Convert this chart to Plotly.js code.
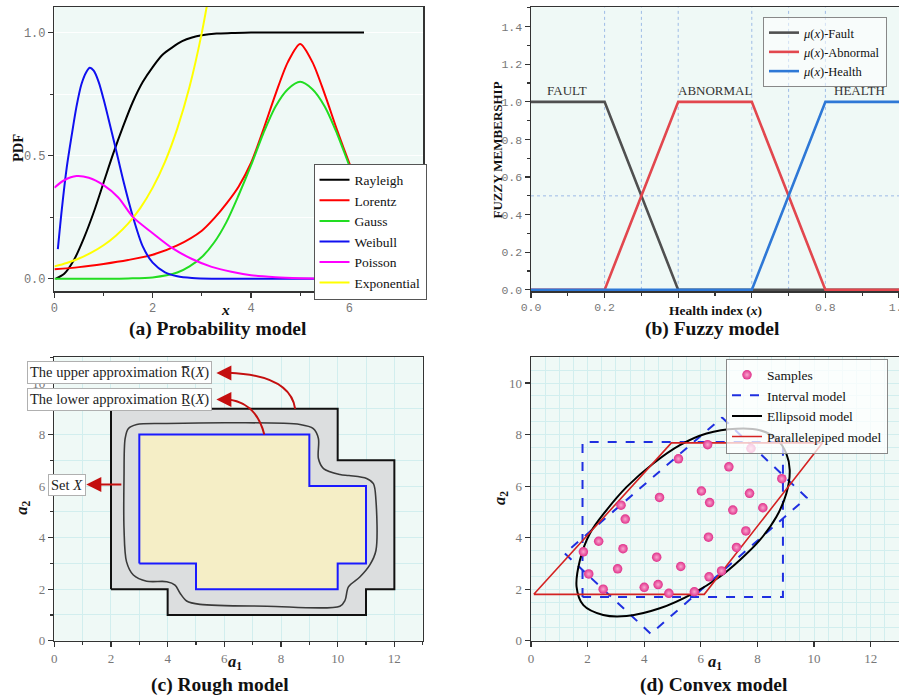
<!DOCTYPE html>
<html><head><meta charset="utf-8">
<script src="https://cdn.plot.ly/plotly-3.0.1.min.js"></script>
<style>html,body{margin:0;padding:0;background:#fff}#chart{width:899px;height:699px}</style>
</head><body><div id="chart"></div>
<script>
// ---------- (a) Probability model ----------
const rayX = [0.03,0.2,0.4,0.6,0.8,1.0,1.2,1.4,1.6,1.8,2.0,2.2,2.4,2.6,2.8,3.0,3.3,3.6,4.0,5.0,6.0,6.3];
const rayY = [0.0,0.02,0.077,0.165,0.27,0.39,0.51,0.62,0.72,0.80,0.86,0.91,0.94,0.965,0.98,0.989,0.996,0.998,1.0,1.0,1.0,1.0];
const lorX = [0,0.5,1,1.5,2,2.5,3,3.25,3.5,3.75,4,4.25,4.5,4.75,5,5.25,5.5,5.75,6,6.3];
const lorY = [0.038,0.047,0.06,0.076,0.097,0.135,0.195,0.245,0.305,0.375,0.47,0.605,0.75,0.88,0.954,0.88,0.75,0.605,0.47,0.32];
const gauX = [0,1,1.5,2,2.5,2.75,3,3.25,3.5,3.75,4,4.25,4.5,4.75,5,5.25,5.5,5.75,6,6.3];
const gauY = [0,0,0.001,0.005,0.025,0.05,0.088,0.147,0.23,0.34,0.46,0.59,0.70,0.77,0.80,0.77,0.70,0.59,0.46,0.31];
const weiX = [0.07,0.15,0.25,0.35,0.45,0.55,0.65,0.72,0.8,0.9,1.0,1.1,1.24,1.4,1.6,1.8,2.0,2.25,2.5,2.8,3.2,4.0,5.0,6.3];
const weiY = [0.12,0.28,0.45,0.58,0.70,0.79,0.84,0.857,0.845,0.80,0.73,0.65,0.535,0.40,0.25,0.13,0.065,0.026,0.01,0.003,0.0,0.0,0.0,0.0];
const poiX = [0,0.2,0.45,0.7,1.0,1.3,1.6,2.0,2.4,2.8,3.2,3.6,4.0,4.5,5.0,5.5,6.3];
const poiY = [0.37,0.40,0.417,0.41,0.38,0.33,0.25,0.185,0.124,0.08,0.048,0.028,0.014,0.006,0.002,0.0,0.0];
const expX = [0,0.25,0.5,0.75,1.0,1.25,1.5,1.75,2.0,2.25,2.5,2.75,3.0,3.2];
const expY = [0.05,0.064,0.082,0.106,0.136,0.175,0.224,0.288,0.37,0.475,0.61,0.78,1.0,1.22];
const aNames = ["Rayleigh","Lorentz","Gauss","Weibull","Poisson","Exponential"];

// ---------- (b) Fuzzy model ----------
const faultX = [0,0.2,0.4,1.0], faultY = [1,1,0,0];
const abnX = [0,0.2,0.4,0.6,0.8,1.0], abnY = [0,0,1,1,0,0];
const heaX = [0,0.6,0.8,1.0], heaY = [0,0,1,1];
const bNames = ["<i>μ</i>(<i>x</i>)-Fault","<i>μ</i>(<i>x</i>)-Abnormal","<i>μ</i>(<i>x</i>)-Health"];
const bLabels = ["FAULT","ABNORMAL","HEALTH"];
const bLabelX = [0.099,0.5,0.894];
const bLabelY = [1.06,1.06,1.06];
const bRefX = [0.2,0.3,0.4,0.6,0.7,0.8];
const bRefY = [0.5];
const bTickVals = [0,0.2,0.4,0.6,0.8,1.0];
const bTickText = ["0.0","0.2","","","0.8","1.0"];

// ---------- (c) Rough model ----------
const upperX = [2,2,10,10,12,12,11,11,4,4,2], upperY = [2,9,9,7,7,2,2,1,1,2,2];
const lowerX = [3,3,9,9,11,11,10,10,5,5,3], lowerY = [3,8,8,6,6,3,3,2,2,3,3];
const setXx = [2.46,2.5,2.61,2.91,3.97,6.32,8.67,9.14,9.32,9.32,9.5,10.08,10.4,11.02,11.26,11.35,11.35,11.14,10.79,10.38,10.26,10.08,7.5,5.14,4.67,4.44,4.26,3.97,3.26,2.79,2.55,2.46,2.46];
const setXy = [6.3,7.85,8.23,8.39,8.43,8.46,8.39,8.23,7.85,7.07,6.68,6.45,6.41,6.3,6.1,5.45,3.5,2.95,2.48,2.09,1.57,1.34,1.34,1.41,1.54,1.84,2.16,2.29,2.31,2.55,3.06,4.36,6.3];

// ---------- (d) Convex model ----------
const smpX = [6.24,7.77,5.21,6.99,8.86,6.02,7.72,4.54,6.31,8.19,7.13,3.18,3.33,7.59,6.27,2.39,3.25,7.26,1.85,4.44,5.29,3.06,6.73,2.04,6.29,2.55,4.0,4.49,4.87,5.77];
const smpY = [7.61,7.46,7.06,6.75,6.29,5.81,5.72,5.56,5.36,5.16,5.07,5.26,4.72,4.26,4.02,3.86,3.57,3.62,3.45,3.24,2.88,2.79,2.71,2.59,2.48,2.0,2.07,2.18,1.84,1.9];
const intX = [1.82,1.82,8.9,8.9,1.82], intY = [1.7,7.71,7.71,1.7,1.7];
const rotX = [6.75,9.74,4.23,1.19,6.75], rotY = [8.66,5.55,0.27,3.39,8.66];
const parX = [0.1,6.12,10.3,4.96,0.1], parY = [1.8,1.8,7.68,7.68,1.8];
const ellX = [7.26,8.08,8.67,9.02,9.14,9.02,8.67,8.08,7.38,6.67,5.73,4.55,3.38,2.55,1.85,1.61,1.73,2.08,2.67,3.38,4.32,5.26,6.2,7.26];
const ellY = [8.23,8.17,7.84,7.26,6.62,5.71,4.81,3.9,3.13,2.48,1.84,1.26,0.96,1.0,1.38,2.09,3.13,4.16,5.07,5.97,6.88,7.59,8.04,8.23];
const dNames = ["Samples","Interval model","Ellipsoid model","Parallelepiped model"];

// ---------- layout helpers ----------
const W = 899, H = 699;
const px = v => v / W, py = v => 1 - v / H;
const SERIF = "Liberation Serif";
const MONO = "Liberation Mono";
const axLine = {showline:true, mirror:true, linecolor:"#333", linewidth:1.5, ticks:"outside", ticklen:5, tickwidth:1.2, tickcolor:"#333", zeroline:false, fixedrange:true};

const traces = [];
const aCols = ["#000000","#ff0000","#22dd22","#1010f0","#ff00ff","#ffff00"];
const aX = [rayX,lorX,gauX,weiX,poiX,expX], aY = [rayY,lorY,gauY,weiY,poiY,expY];
const drawOrder = [0,1,2,3,5,4];
drawOrder.forEach(i => traces.push({x:aX[i], y:aY[i], name:aNames[i], type:"scatter", mode:"lines", xaxis:"x", yaxis:"y", legend:"legend", legendrank:i+1, line:{color:aCols[i], width:2, shape:"spline", smoothing:0.8}}));

const bCols = ["#505050","#e2474e","#2e78d6"];
[[faultX,faultY],[abnX,abnY],[heaX,heaY]].forEach((s,i) => traces.push({x:s[0], y:s[1], name:bNames[i], type:"scatter", mode:"lines", xaxis:"x2", yaxis:"y2", legend:"legend2", line:{color:bCols[i], width:2.6}}));

traces.push({x:upperX, y:upperY, type:"scatter", mode:"lines", fill:"toself", fillcolor:"#dcdedf", line:{color:"#111", width:2}, xaxis:"x3", yaxis:"y3", showlegend:false});
traces.push({x:lowerX, y:lowerY, type:"scatter", mode:"lines", fill:"toself", fillcolor:"#f5eec6", line:{color:"#1a1aff", width:2}, xaxis:"x3", yaxis:"y3", showlegend:false});
traces.push({x:setXx, y:setXy, type:"scatter", mode:"lines", line:{color:"#3a3a3a", width:1.6, shape:"spline", smoothing:0.9}, xaxis:"x3", yaxis:"y3", showlegend:false});

traces.push({x:intX, y:intY, name:dNames[1], type:"scatter", mode:"lines", line:{color:"#1f2fe0", width:2, dash:"dash"}, xaxis:"x4", yaxis:"y4", legend:"legend3", legendrank:2});
traces.push({x:rotX, y:rotY, name:dNames[1], type:"scatter", mode:"lines", line:{color:"#1f2fe0", width:2, dash:"dash"}, xaxis:"x4", yaxis:"y4", showlegend:false});
traces.push({x:ellX, y:ellY, name:dNames[2], type:"scatter", mode:"lines", line:{color:"#000", width:2, shape:"spline", smoothing:1}, xaxis:"x4", yaxis:"y4", legend:"legend3", legendrank:3});
traces.push({x:parX, y:parY, name:dNames[3], type:"scatter", mode:"lines", line:{color:"#d42222", width:1.6}, xaxis:"x4", yaxis:"y4", legend:"legend3", legendrank:4});
traces.push({x:smpX, y:smpY, name:dNames[0], type:"scatter", mode:"markers", marker:{size:9.5, color:"#e0308a", gradient:{type:"radial", color:"#f9a6cf"}, line:{width:0}}, xaxis:"x4", yaxis:"y4", legend:"legend3", legendrank:1});

const tickMono = {family:MONO, size:12, color:"#777"};
const tickMonoS = {family:MONO, size:11.5, color:"#777"};
const tickSerif = {family:SERIF, size:13, color:"#777"};
const gridC = "#d2eeee";

const layout = {
  width:W, height:H, margin:{l:0,r:0,t:0,b:0},
  paper_bgcolor:"#ffffff", plot_bgcolor:"#eff9f6",
  showlegend:true,
  xaxis: Object.assign({}, axLine, {domain:[px(54.4),px(423)], range:[0,7.5], dtick:2, tick0:0, tickfont:tickMono, showgrid:false, minor:{dtick:1, tick0:0, ticks:"outside", ticklen:3, tickcolor:"#333"}, anchor:"y"}),
  yaxis: Object.assign({}, axLine, {domain:[py(291),py(7)], range:[-0.05,1.104], dtick:0.5, tick0:0, tickformat:".1f", tickfont:tickMono, showgrid:true, gridcolor:"rgba(255,255,255,0.9)", minor:{dtick:0.25, tick0:0, ticks:"outside", ticklen:3, tickcolor:"#333", showgrid:true, gridcolor:"rgba(255,255,255,0.9)"}, anchor:"x"}),
  xaxis2: Object.assign({}, axLine, {domain:[px(531),1], range:[0,1.0], tickmode:"array", tickvals:bTickVals, ticktext:bTickText, tickfont:tickMonoS, ticklabeloverflow:"allow", showgrid:false, minor:{dtick:0.1, tick0:0, ticks:"outside", ticklen:3, tickcolor:"#333"}, anchor:"y2"}),
  yaxis2: Object.assign({}, axLine, {domain:[py(291),py(7.3)], range:[-0.006,1.503], dtick:0.2, tick0:0, tickformat:".1f", tickfont:tickMonoS, showgrid:false, minor:{dtick:0.1, tick0:0, ticks:"outside", ticklen:3, tickcolor:"#333"}, anchor:"x2"}),
  xaxis3: Object.assign({}, axLine, {domain:[px(54.3),px(422.7)], range:[0,13], dtick:2, tick0:0, tickfont:tickSerif, showgrid:true, gridcolor:gridC, minor:{dtick:1, tick0:0, ticks:"outside", ticklen:3, tickcolor:"#333", showgrid:true, gridcolor:gridC}, anchor:"y3"}),
  yaxis3: Object.assign({}, axLine, {domain:[py(640.7),py(357.3)], range:[0,11], dtick:2, tick0:0, tickfont:tickSerif, showgrid:true, gridcolor:gridC, minor:{dtick:1, tick0:0, ticks:"outside", ticklen:3, tickcolor:"#333", showgrid:true, gridcolor:gridC}, anchor:"x3"}),
  xaxis4: Object.assign({}, axLine, {domain:[px(531),1], range:[0,13], dtick:2, tick0:0, tickfont:tickSerif, showgrid:true, gridcolor:gridC, minor:{dtick:0.5, tick0:0, ticks:"", showgrid:true, gridcolor:gridC}, anchor:"y4"}),
  yaxis4: Object.assign({}, axLine, {domain:[py(640.7),py(357.3)], range:[0,11], dtick:2, tick0:0, tickfont:tickSerif, showgrid:true, gridcolor:gridC, minor:{dtick:0.5, tick0:0, ticks:"", showgrid:true, gridcolor:gridC}, anchor:"x4"}),
  legend: {x:px(313.5), y:py(163.5), xanchor:"left", yanchor:"top", bgcolor:"#ffffff", bordercolor:"#555", borderwidth:1, font:{family:SERIF, size:13.5, color:"#111"}, itemwidth:30, tracegroupgap:0, traceorder:"normal"},
  legend2: {x:px(763), y:py(17), xanchor:"left", yanchor:"top", bgcolor:"rgba(255,255,255,0.55)", bordercolor:"#888", borderwidth:1, font:{family:SERIF, size:12.5, color:"#111"}, itemwidth:30, tracegroupgap:0},
  legend3: {x:px(726), y:py(358.5), xanchor:"left", yanchor:"top", bgcolor:"rgba(255,255,255,0.75)", bordercolor:"#888", borderwidth:1, font:{family:SERIF, size:13.5, color:"#111"}, itemwidth:30, tracegroupgap:0, traceorder:"normal"},
  shapes: [], annotations: []
};

// (b) dotted reference lines
bRefX.forEach(v => layout.shapes.push({type:"line", xref:"x2", yref:"y2", x0:v, x1:v, y0:0, y1:1.503, layer:"below", line:{color:"#9dbbe6", width:1, dash:"dot"}}));
bRefY.forEach(v => layout.shapes.push({type:"line", xref:"x2", yref:"y2", x0:0, x1:1, y0:v, y1:v, layer:"below", line:{color:"#9dbbe6", width:1, dash:"dot"}}));
// (b) region labels
bLabels.forEach((t,i) => layout.annotations.push({xref:"x2", yref:"y2", x:bLabelX[i], y:bLabelY[i], xanchor:"center", yanchor:"middle", text:t, showarrow:false, font:{family:SERIF, size:13, color:"#333"}}));

// (c) label boxes
const boxFont = {family:SERIF, size:14.5, color:"#222"};
function box(x, y, text) {
  layout.annotations.push({xref:"paper", yref:"paper", x:px(x), y:py(y), xanchor:"center", yanchor:"middle", text:text, showarrow:false, bgcolor:"#ffffff", bordercolor:"#b0b0b0", borderwidth:1, borderpad:2, font:boxFont});
}
box(119, 372.7, "The upper approximation R\u0305(<i>X</i>)");
box(119, 399.3, "The lower approximation R\u0332(<i>X</i>)");
box(67.3, 484.5, "Set <i>X</i>");

// (c) arrows
const red = "#c40f0f";
layout.shapes.push({type:"path", xref:"x3", yref:"y3", path:"M 8.5,9.0 Q 8.32,10.3 6.15,10.4", line:{color:red, width:2}});
layout.shapes.push({type:"path", xref:"x3", yref:"y3", path:"M 7.41,8.0 Q 7.14,9.22 6.15,9.36", line:{color:red, width:2}});
function head(x, y, ax) {
  layout.annotations.push({xref:"x3", yref:"y3", x:x, y:y, ax:ax, ay:0, text:" ", showarrow:true, arrowhead:2, arrowsize:1.5, arrowwidth:2, arrowcolor:red, standoff:0, startstandoff:0});
}
head(5.72, 10.39, 14);
head(5.72, 9.36, 14);
head(1.13, 6.06, 38);

// axis titles and panel titles
function lab(x, y, text, size, angle) {
  layout.annotations.push({xref:"paper", yref:"paper", x:px(x), y:py(y), xanchor:"center", yanchor:"middle", text:text, showarrow:false, textangle:angle||0, font:{family:SERIF, size:size, color:"#111"}});
}
lab(18, 148, "<b>PDF</b>", 14.5, -90);
lab(226, 309, "<b><i>x</i></b>", 15.5);
lab(497, 150.5, "<b>FUZZY MEMBERSHIP</b>", 13, -90);
lab(715, 310, "<b>Health index (<i>x</i>)</b>", 13.5);
lab(21.7, 508, "<b><i>a</i><sub>2</sub></b>", 16.5, -90);
lab(235, 662, "<b><i>a</i><sub>1</sub></b>", 16.5);
lab(500, 498, "<b><i>a</i><sub>2</sub></b>", 16.5, -90);
lab(715, 662, "<b><i>a</i><sub>1</sub></b>", 16.5);
lab(217.5, 329, "<b>(a) Probability model</b>", 19.5);
lab(712, 329, "<b>(b) Fuzzy model</b>", 19.5);
lab(219.5, 685, "<b>(c) Rough model</b>", 19.5);
lab(713.5, 685, "<b>(d) Convex model</b>", 19.5);

Plotly.newPlot("chart", traces, layout, {displayModeBar:false, staticPlot:true});
</script></body></html>
